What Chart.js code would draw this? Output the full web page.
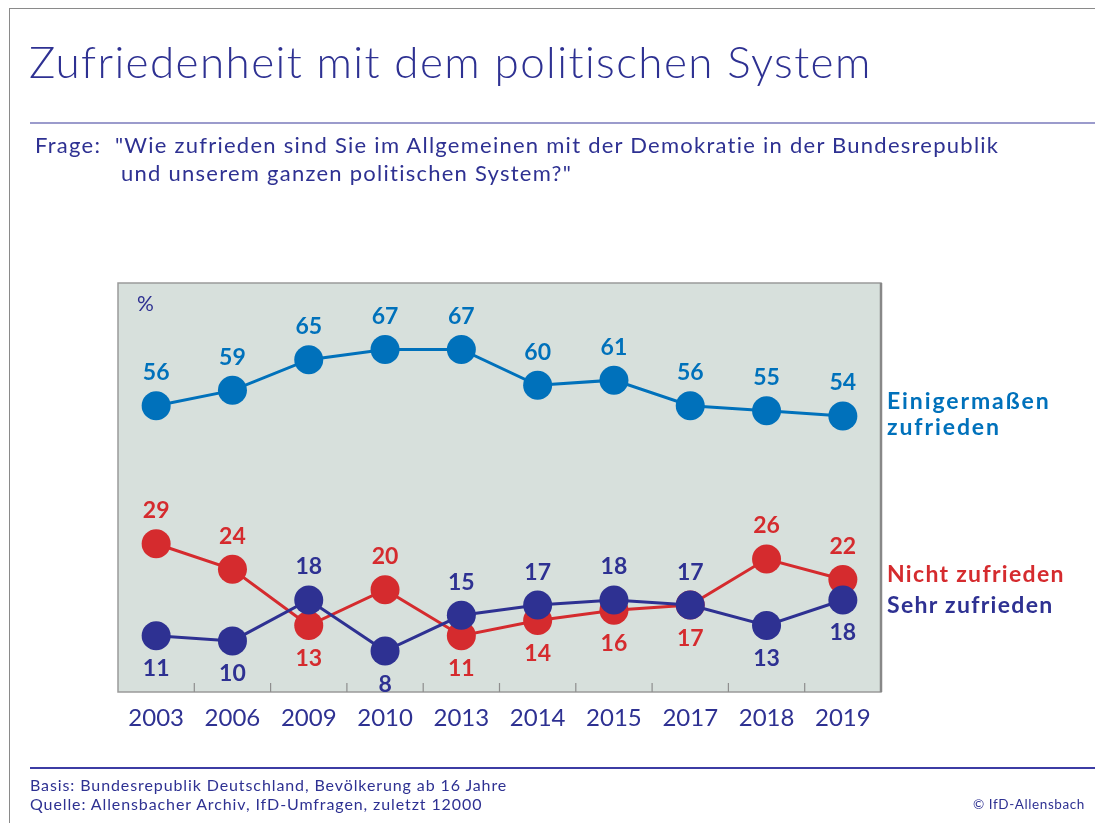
<!DOCTYPE html>
<html>
<head>
<meta charset="utf-8">
<script src="https://cdn.jsdelivr.net/npm/chart.js@4"></script>
<style>
  body { margin: 0; background: #fff; font-family: Lato, "Noto Sans", sans-serif; color: #2e3192; }
  #page { position: relative; width: 1095px; height: 823px; overflow: hidden; }
  #myChart { position: absolute; left: 0; top: 0; }
  .frame { position: absolute; left: 9px; top: 8px; right: 0; bottom: 0; border-top: 1.5px solid #8a8a8a; border-left: 1.5px solid #8a8a8a; }
  .titel { position: absolute; left: 29px; top: 35px; font-size: 44px; font-weight: 300; letter-spacing: 1.4px; white-space: nowrap; }
  .linie1 { position: absolute; left: 30px; right: 0; top: 122px; height: 2px; background: #9b9bcc; }
  .frage { position: absolute; left: 35px; top: 131px; font-size: 22px; line-height: 28px; letter-spacing: 1.25px; white-space: nowrap; }
  .frage2 { padding-left: 86px; }
  .serie { position: absolute; left: 887px; font-size: 23px; font-weight: bold; line-height: 26px; letter-spacing: 1.3px; white-space: nowrap; }
  .linie2 { position: absolute; left: 30px; right: 0; top: 767px; height: 1.5px; background: #3c3ca4; }
  .fuss { position: absolute; left: 30px; top: 775px; font-size: 16px; line-height: 19px; letter-spacing: 0.9px; white-space: nowrap; }
  .copy { position: absolute; right: 10px; top: 796px; font-size: 13.5px; letter-spacing: 0.6px; }
</style>
</head>
<body>
<div id="page">
  <canvas id="myChart" width="1095" height="823"></canvas>
  <div class="frame"></div>
  <div class="titel">Zufriedenheit mit dem politischen System</div>
  <div class="linie1"></div>
  <div class="frage">Frage:&nbsp; "Wie zufrieden sind Sie im Allgemeinen mit der Demokratie in der Bundesrepublik<br><span class="frage2">und unserem ganzen politischen System?"</span></div>
  <div class="serie" style="top:387px;color:#0071bb;letter-spacing:1.9px;">Einigermaßen<br>zufrieden</div>
  <div class="serie" style="top:560px;color:#d52b2e;">Nicht zufrieden</div>
  <div class="serie" style="top:591px;color:#2e3192;">Sehr zufrieden</div>
  <div class="linie2"></div>
  <div class="fuss">Basis: Bundesrepublik Deutschland, Bevölkerung ab 16 Jahre<br>Quelle: Allensbacher Archiv, IfD-Umfragen, zuletzt 12000</div>
  <div class="copy">© IfD-Allensbach</div>
</div>
<script>
    var jahre = ['2003', '2006', '2009', '2010', '2013', '2014', '2015', '2017', '2018', '2019'];
    var einigermassen = [56, 59, 65, 67, 67, 60, 61, 56, 55, 54];
    var nichtZufrieden = [29, 24, 13, 20, 11, 14, 16, 17, 26, 22];
    var sehrZufrieden = [11, 10, 18, 8, 15, 17, 18, 17, 13, 18];

    // Lage der Zahlen: oben (o) oder unten (u) vom Punkt
    var lageEinig = ['o', 'o', 'o', 'o', 'o', 'o', 'o', 'o', 'o', 'o'];
    var lageNicht = ['o', 'o', 'u', 'o', 'u', 'u', 'u', 'u', 'o', 'o'];
    var lageSehr = ['u', 'u', 'o', 'u', 'o', 'o', 'o', 'o', 'u', 'u'];

    var blau = '#0071bb';
    var rot = '#d52b2e';
    var dunkelblau = '#2e3192';

    var hintergrund = {
        id: 'hintergrund',
        beforeDraw: function(chart) {
            var a = chart.chartArea;
            var ctx = chart.ctx;
            ctx.save();
            ctx.fillStyle = '#d7e0dc';
            ctx.fillRect(a.left, a.top, a.right - a.left, a.bottom - a.top);
            ctx.strokeStyle = '#9a9a9a';
            ctx.lineWidth = 1.5;
            ctx.strokeRect(a.left, a.top, a.right - a.left, a.bottom - a.top);
            ctx.strokeStyle = '#888';
            ctx.lineWidth = 2.5;
            ctx.beginPath();
            ctx.moveTo(a.right, a.top);
            ctx.lineTo(a.right, a.bottom);
            ctx.stroke();
            // Striche zwischen den Jahren
            var x = chart.scales.x;
            ctx.strokeStyle = '#8e8e8e';
            ctx.lineWidth = 1.2;
            ctx.beginPath();
            for (var i = 1; i < jahre.length; i++) {
                var px = (x.getPixelForValue(i - 1) + x.getPixelForValue(i)) / 2;
                ctx.moveTo(px, a.bottom);
                ctx.lineTo(px, a.bottom - 9);
            }
            ctx.stroke();
            ctx.fillStyle = dunkelblau;
            ctx.font = '21px Lato';
            ctx.textAlign = 'left';
            ctx.textBaseline = 'middle';
            ctx.fillText('%', a.left + 19, a.top + 21);
            ctx.restore();
        }
    };

    var zahlen = {
        id: 'zahlen',
        afterDatasetsDraw: function(chart) {
            var ctx = chart.ctx;
            ctx.save();
            ctx.font = 'bold 23px Lato';
            ctx.textAlign = 'center';
            ctx.textBaseline = 'middle';
            chart.data.datasets.forEach(function(ds, d) {
                var meta = chart.getDatasetMeta(d);
                ctx.fillStyle = ds.borderColor;
                meta.data.forEach(function(p, i) {
                    var dy = ds.lage[i] === 'o' ? -33 : 33;
                    ctx.fillText(ds.data[i], p.x, p.y + dy);
                });
            });
            ctx.restore();
        }
    };

    var ctx = document.getElementById('myChart').getContext('2d');
    var myChart = new Chart(ctx, {
        type: 'line',
        data: {
            labels: jahre,
            datasets: [
                {
                    label: 'Sehr zufrieden',
                    data: sehrZufrieden,
                    lage: lageSehr,
                    borderColor: dunkelblau,
                    backgroundColor: dunkelblau
                },
                {
                    label: 'Nicht zufrieden',
                    data: nichtZufrieden,
                    lage: lageNicht,
                    borderColor: rot,
                    backgroundColor: rot
                },
                {
                    label: 'Einigermaßen zufrieden',
                    data: einigermassen,
                    lage: lageEinig,
                    borderColor: blau,
                    backgroundColor: blau
                }
            ]
        },
        options: {
            responsive: false,
            animation: false,
            devicePixelRatio: 1,
            layout: { padding: { left: 118, top: 283, right: 214, bottom: 81 } },
            elements: {
                line: { borderWidth: 3, tension: 0 },
                point: { radius: 14.5, borderWidth: 0, hoverRadius: 14.5 }
            },
            plugins: {
                legend: { display: false },
                tooltip: { enabled: false }
            },
            scales: {
                x: {
                    offset: true,
                    grid: { display: false },
                    border: { display: false },
                    ticks: {
                        color: dunkelblau,
                        font: { family: 'Lato', size: 24 },
                        padding: 4,
                        maxRotation: 0
                    },
                    afterFit: function(scale) { scale.height = 50; }
                },
                y: {
                    display: false,
                    min: 0,
                    max: 80
                }
            }
        },
        plugins: [hintergrund, zahlen]
    });
</script>
</body>
</html>
